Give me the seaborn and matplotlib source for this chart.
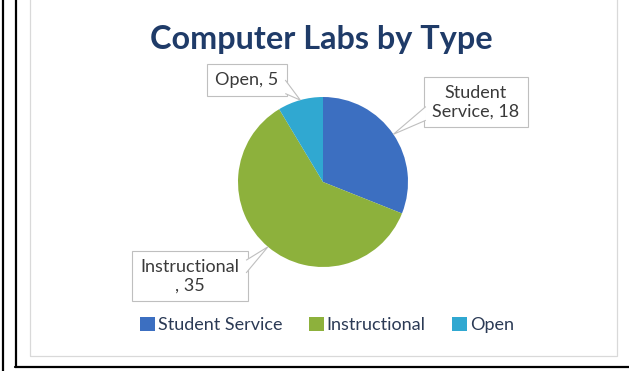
import matplotlib
matplotlib.use("Agg")
import matplotlib.pyplot as plt
import seaborn as sns
from matplotlib.lines import Line2D
from matplotlib.patches import Rectangle, Polygon
import numpy as np

# ---- data ----
categories = ["Student Service", "Instructional", "Open"]
counts = [18, 35, 5]
label_texts = ["Student\nService, 18", "Instructional\n, 35", "Open, 5"]
title = "Computer Labs by Type"

sns.set_theme(style="white")
plt.rcParams['font.family'] = ['Lato', 'DejaVu Sans']

colors = ["#3C6FC1", "#8DB13C", "#30A8D1"]

W, H = 629, 371
fig = plt.figure(figsize=(W / 100, H / 100), dpi=100)
fig.patch.set_facecolor("white")

def fx(x):
    return x / W

def fy(y):
    return 1 - y / H

# page frame lines
fig.add_artist(Line2D([fx(3.5), fx(3.5)], [0, 1], color="black", lw=1.6, transform=fig.transFigure))
fig.add_artist(Line2D([fx(15.5), fx(15.5)], [fy(367), 1], color="black", lw=1.6, transform=fig.transFigure))
fig.add_artist(Line2D([fx(15), 1], [fy(366.5), fy(366.5)], color="black", lw=1.6, transform=fig.transFigure))
# chart area border
fig.add_artist(Rectangle((fx(29.5), fy(355.5)), fx(617) - fx(29.5), 1.02 - fy(355.5),
                         fill=False, edgecolor="#D9D9D9", lw=0.9, transform=fig.transFigure))

# pie axes: center (323,182), radius 85
cx, cy, r = 323, 182, 85
ax = fig.add_axes([fx(cx - r), fy(cy + r), 2 * r / W, 2 * r / H])
wedges, _ = ax.pie(counts, colors=colors, startangle=90, counterclock=False,
                   wedgeprops=dict(linewidth=0))
ax.set_xlim(-1, 1)
ax.set_ylim(-1, 1)
ax.set_aspect("equal")
ax.axis("off")

# title
fig.text(fx(321), fy(40), title, ha="center", va="center", fontsize=23.3,
         fontweight="bold", color="#1F3B68")

# data labels (callout boxes)
label_pos = {"Student Service": (476, 102), "Instructional": (190, 276), "Open": (247, 80)}
# callout pointer base: box side and fractional span along it (from top)
pointer_base = {"Student Service": ("left", 0.59, 0.86),
                "Instructional": ("right", 0.19, 0.44),
                "Open": ("right", 0.5, 0.92)}
texts = []
for cat, txt in zip(categories, label_texts):
    tx, ty = label_pos[cat]
    t = fig.text(fx(tx), fy(ty), txt, ha="center", va="center", fontsize=13,
                 color="#3A3A3A", linespacing=1.2, zorder=3,
                 bbox=dict(boxstyle="square,pad=0.45", fc="white", ec="#BFBFBF", lw=0.8))
    texts.append(t)

fig.canvas.draw()
renderer = fig.canvas.get_renderer()
inv = fig.transFigure.inverted()
for w, cat, t in zip(wedges, categories, texts):
    mid = np.deg2rad((w.theta1 + w.theta2) / 2)
    tip = ax.transData.transform((np.cos(mid), np.sin(mid)))
    bb = t.get_bbox_patch().get_window_extent(renderer)
    side, f0, f1 = pointer_base[cat]
    xb = bb.x0 + 1.5 if side == "left" else bb.x1 - 1.5
    y0 = bb.y1 - f0 * bb.height
    y1 = bb.y1 - f1 * bb.height
    pts = inv.transform([(xb, y0), tip, (xb, y1)])
    fig.add_artist(Polygon(pts, closed=False, fc="white", ec="#BFBFBF", lw=0.8,
                           transform=fig.transFigure, zorder=4))

# legend
leg = fig.legend(wedges, categories, loc="center", bbox_to_anchor=(fx(327), fy(325)),
                 ncol=3, frameon=False, fontsize=13, handlelength=0.85, handleheight=0.85,
                 handletextpad=0.15, columnspacing=1.45, labelcolor="#2B3A55")

fig.savefig("out.png", dpi=100, facecolor="white")
